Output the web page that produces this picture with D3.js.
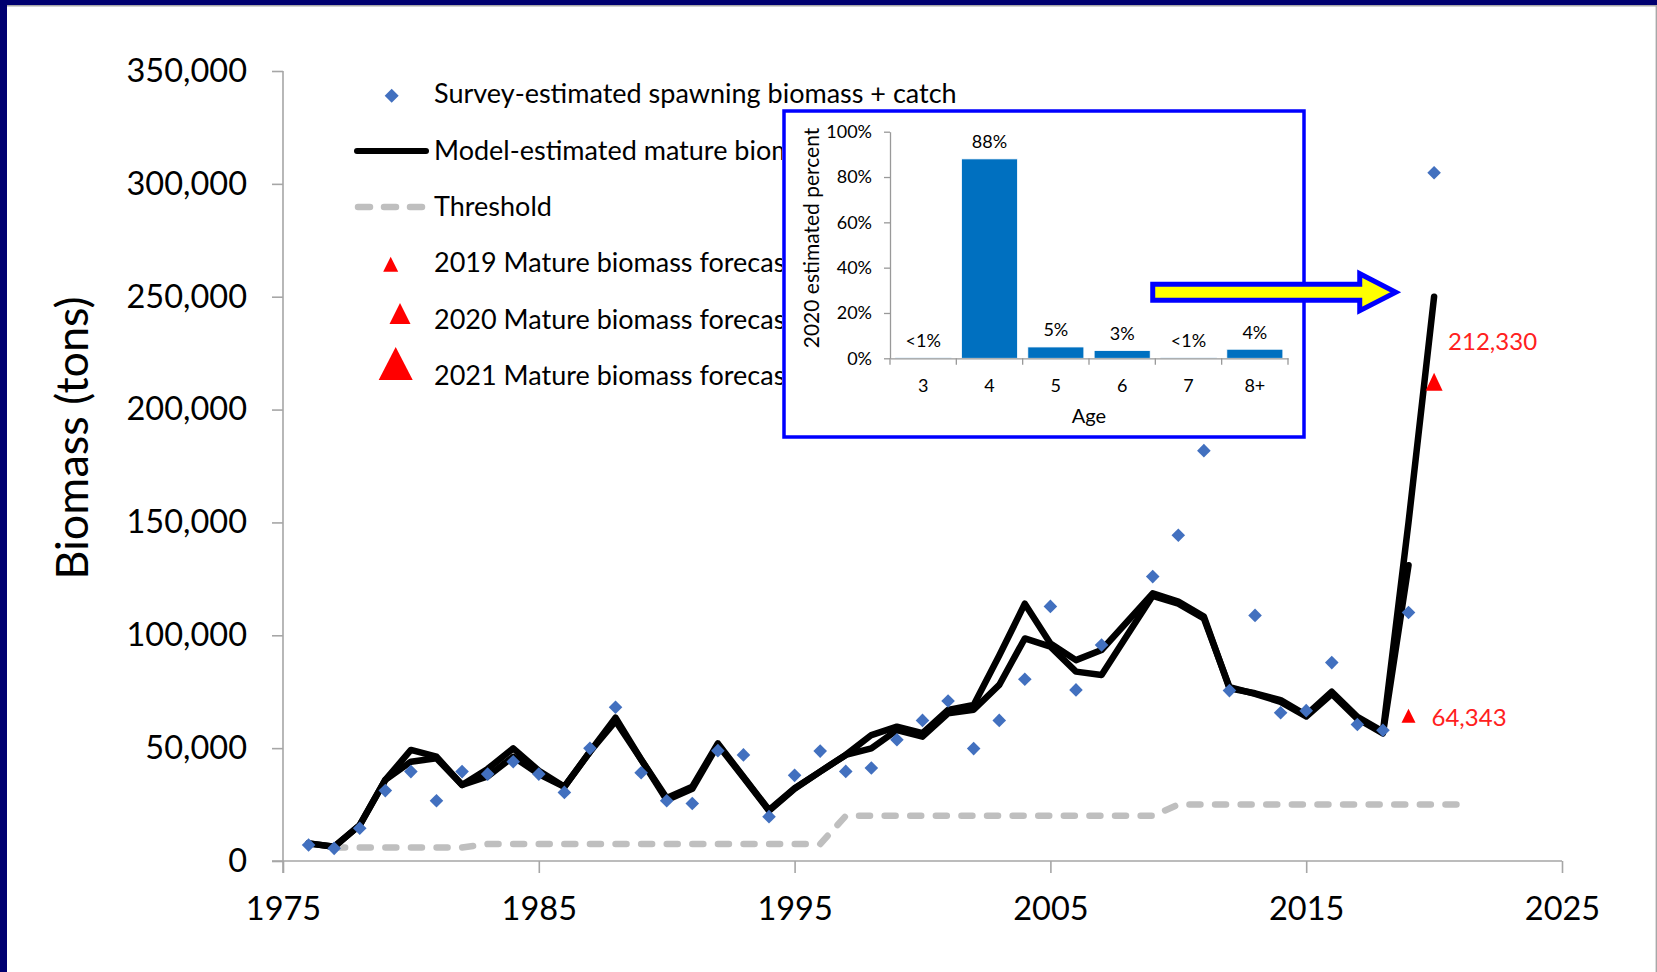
<!DOCTYPE html>
<html><head><meta charset="utf-8">
<script src="https://cdn.jsdelivr.net/npm/d3@7"></script>
<style>
html,body{margin:0;padding:0;background:#fff;}
svg{display:block;font-family:Lato,"Open Sans",sans-serif;}
</style></head><body>
<svg id="c" width="1657" height="972"></svg>
<script>
// ---------------- DATA ----------------
const years = [1976,1977,1978,1979,1980,1981,1982,1983,1984,1985,1986,1987,1988,1989,1990,
  1991,1992,1993,1994,1995,1996,1997,1998,1999,2000,2001,2002,2003,2004,2005,2006,2007,2008,
  2009,2010,2011,2012,2013,2014,2015,2016,2017,2018,2019,2020];
const surveyBiomass = [7100,5600,14500,31200,39600,26700,39600,38500,44000,38500,30400,49900,68100,39100,26700,
  25500,48900,47000,19650,37950,48700,39700,41200,53750,62300,70900,49800,62300,80500,112800,75800,95700,null,
  126000,144300,181800,75500,108800,65700,66600,87900,60500,57900,110100,304900];
const modelBiomassA = [7800,6300,15900,35900,49200,46200,33700,40800,49900,40000,32900,48400,63500,45000,27900,
  32900,52100,37300,22600,32200,39600,47000,55800,59500,56600,66900,69100,91000,114000,96400,89000,93500,106000,
  118600,114900,108300,76500,74300,71300,64700,75000,63900,57300,150000,250000];
const modelBiomassB = [7800,6300,15900,35900,44000,45500,33700,37500,46200,38500,32900,48400,62000,45000,27000,
  32000,51500,37000,22300,32000,39600,47000,49900,58000,55100,65400,67000,78000,98600,95000,83900,82400,100000,
  117500,114000,107500,77000,74000,70500,64000,74000,63000,56500,131000];
const thresholdYears = [1977,1982,1983,1996,1997,2009,2010,2021];
const thresholdValues = [6000,6000,7500,7500,20000,20000,25000,25000];
const forecastYears = [2019,2020];
const forecastValues = [64343,212330];
const forecastLabels = ["64,343","212,330"];
const xTickValues = [1975,1985,1995,2005,2015,2025];
const yTickValues = [0,50000,100000,150000,200000,250000,300000,350000];
const legendLabels = ["Survey-estimated spawning biomass + catch","Model-estimated mature biomass","Threshold",
  "2019 Mature biomass forecast","2020 Mature biomass forecast","2021 Mature biomass forecast"];
// inset
const ages = ["3","4","5","6","7","8+"];
const agePercent = [0.3,88,5,3.4,0.3,4];
const agePercentLabels = ["<1%","88%","5%","3%","<1%","4%"];
const insetYTicks = [0,20,40,60,80,100];

// ---------------- LAYOUT ----------------
const W = 1657, H = 972;
const svg = d3.select("#c");
const FONT = "Lato, 'Open Sans', sans-serif";

svg.append("rect").attr("width",W).attr("height",H).attr("fill","#fff");
svg.append("rect").attr("x",0).attr("y",0).attr("width",W).attr("height",5).attr("fill","#000070");
svg.append("rect").attr("x",0).attr("y",0).attr("width",7).attr("height",H).attr("fill","#000070");
svg.append("line").attr("x1",7).attr("x2",W).attr("y1",5.7).attr("y2",5.7).attr("stroke","#a8a8a8").attr("stroke-width",1.4);
svg.append("line").attr("x1",W-0.7).attr("x2",W-0.7).attr("y1",5).attr("y2",H).attr("stroke","#a8a8a8").attr("stroke-width",1.4);

const x = d3.scaleLinear().domain([1975,2025]).range([283,1562]);
const y = d3.scaleLinear().domain([0,350000]).range([861,71]);

const axisColor = "#a6a6a6";
const gx = svg.append("g").attr("transform","translate(0,861)")
  .call(d3.axisBottom(x).tickValues(xTickValues).tickFormat(d3.format("d")).tickSize(12).tickSizeOuter(0).tickPadding(24));
const gy = svg.append("g").attr("transform","translate(283,0)")
  .call(d3.axisLeft(y).tickValues(yTickValues).tickFormat(d3.format(",")).tickSize(11).tickSizeOuter(0).tickPadding(25));
[gx,gy].forEach(g=>{
  g.selectAll("path,line").attr("stroke",axisColor).attr("stroke-width",1.6);
  g.selectAll("text").attr("font-size",32.5).attr("font-family",FONT).attr("fill","#000");
});
gy.select(".domain").attr("d","M0,873V71");
gx.select(".domain").attr("d","M272,0H1562");

svg.append("text").attr("transform","translate(88,438) rotate(-90)")
  .attr("text-anchor","middle").attr("font-size",45).attr("font-family",FONT).attr("fill","#000")
  .text("Biomass (tons)");

// threshold
const thr = thresholdYears.map((yr,i)=>[yr,thresholdValues[i]]);
svg.append("path").datum(thr)
  .attr("d",d3.line().x(d=>x(d[0])).y(d=>y(d[1])))
  .attr("fill","none").attr("stroke","#bfbfbf").attr("stroke-width",6.5)
  .attr("stroke-linecap","round").attr("stroke-linejoin","round").attr("stroke-dasharray","11,14.6");

// model lines
const line = d3.line().x(d=>x(d[0])).y(d=>y(d[1]));
[modelBiomassA, modelBiomassB].forEach(series=>{
  const pts = series.map((v,i)=>[years[i],v]);
  svg.append("path").datum(pts).attr("d",line)
    .attr("fill","none").attr("stroke","#000").attr("stroke-width",6.5).attr("stroke-linejoin","round").attr("stroke-linecap","round");
});

// survey points
const diamond = s => `M0,${-s}L${s},0L0,${s}L${-s},0Z`;
svg.append("g").selectAll("path")
  .data(years.map((yr,i)=>[yr,surveyBiomass[i]]).filter(d=>d[1]!=null))
  .join("path").attr("transform",d=>`translate(${x(d[0])},${y(d[1])})`)
  .attr("d",diamond(6.8)).attr("fill","#4270bf");

// forecast triangles
const tri = (w,h) => `M0,${-h/2}L${w/2},${h/2}L${-w/2},${h/2}Z`;
const triSizes = [[14,14],[17,18]];
const labelOffsets = [[23,10],[14,-32]];
forecastYears.forEach((yr,i)=>{
  svg.append("path").attr("transform",`translate(${x(yr)},${y(forecastValues[i])})`)
    .attr("d",tri(triSizes[i][0],triSizes[i][1])).attr("fill","#ff0000");
  svg.append("text").attr("x",x(yr)+labelOffsets[i][0]).attr("y",y(forecastValues[i])+labelOffsets[i][1])
    .attr("font-size",24).attr("font-family",FONT).attr("fill","#ff2020").text(forecastLabels[i]);
});

// legend (lower rows are hidden behind the inset box on the right)
const clip = svg.append("clipPath").attr("id","legclip");
clip.append("rect").attr("x",0).attr("y",0).attr("width",W).attr("height",110);
clip.append("rect").attr("x",0).attr("y",0).attr("width",782).attr("height",H);
const leg = svg.append("g").attr("clip-path","url(#legclip)");
const legBaselines = [103.3,160,215.7,272.3,329,385];
legendLabels.forEach((t,i)=>{
  leg.append("text").attr("x",434).attr("y",legBaselines[i]).attr("font-size",27)
    .attr("font-family",FONT).attr("fill","#000").text(t);
});
leg.append("path").attr("transform","translate(391.7,95.7)").attr("d",diamond(7)).attr("fill","#4270bf");
leg.append("line").attr("x1",357).attr("x2",426).attr("y1",151).attr("y2",151).attr("stroke","#000").attr("stroke-width",6).attr("stroke-linecap","round");
leg.append("line").attr("x1",358).attr("x2",424).attr("y1",207).attr("y2",207).attr("stroke","#bfbfbf").attr("stroke-width",6.5)
  .attr("stroke-linecap","round").attr("stroke-dasharray","12,14");
const legTri = [[390.7,264.2,15,15],[400,313.5,21,21],[395.7,363.5,34,33]];
legTri.forEach(d=>{
  leg.append("path").attr("transform",`translate(${d[0]},${d[1]})`).attr("d",tri(d[2],d[3])).attr("fill","#ff0000");
});

// ---------------- INSET ----------------
const inset = svg.append("g");
inset.append("rect").attr("x",784).attr("y",111).attr("width",520).attr("height",326)
  .attr("fill","#fff").attr("stroke","#0000ff").attr("stroke-width",3.5);

const xb = d3.scaleBand().domain(ages).range([890,1288]).padding(0);
const yb = d3.scaleLinear().domain([0,100]).range([358.3,131.7]);
const bw = xb.bandwidth()*0.845;

inset.append("g").selectAll("rect").data(ages).join("rect")
  .attr("x",a=>xb(a)+(xb.bandwidth()-bw)/2).attr("width",bw)
  .attr("y",(a,i)=>yb(agePercent[i])).attr("height",(a,i)=>yb(0)-yb(agePercent[i]))
  .attr("fill","#0070c0").attr("stroke","#ffffff").attr("stroke-width",0.8);

const giy = inset.append("g").attr("transform","translate(890,0)")
  .call(d3.axisLeft(yb).tickValues(insetYTicks).tickFormat(d=>d+"%").tickSize(6).tickSizeOuter(0).tickPadding(12));
const gix = inset.append("g").attr("transform","translate(0,358.3)")
  .call(d3.axisBottom(xb).tickSize(0).tickSizeOuter(0).tickPadding(20.6));
const bounds = ages.map(a=>xb(a)).concat([xb.range()[1]]);
gix.selectAll(".bt").data(bounds).join("line").attr("class","bt")
  .attr("x1",d=>d).attr("x2",d=>d).attr("y1",0).attr("y2",6.5);
[giy,gix].forEach(g=>{
  g.selectAll("path,line").attr("stroke","#999").attr("stroke-width",1.3);
  g.selectAll("text").attr("font-size",18).attr("font-family",FONT).attr("fill","#000");
});

inset.append("g").selectAll("text").data(ages).join("text")
  .attr("x",a=>xb(a)+xb.bandwidth()/2).attr("y",(a,i)=>yb(agePercent[i])-10.5)
  .attr("text-anchor","middle").attr("font-size",18).attr("font-family",FONT).attr("fill","#000")
  .text((a,i)=>agePercentLabels[i]);

inset.append("text").attr("x",(xb.range()[0]+xb.range()[1])/2).attr("y",422.7).attr("text-anchor","middle")
  .attr("font-size",20).attr("font-family",FONT).attr("fill","#000").text("Age");
inset.append("text").attr("transform","translate(819,238) rotate(-90)").attr("text-anchor","middle")
  .attr("font-size",21).attr("font-family",FONT).attr("fill","#000").text("2020 estimated percent");

// arrow annotation pointing at the 2020 model estimate
const tipX = x(2018.5), tipY = y(252000);
const arrowPts = [[-243,-8],[-36,-8],[-36,-18.5],[0,0],[-36,18.5],[-36,8],[-243,8]];
svg.append("path").attr("transform",`translate(${tipX},${tipY})`)
  .attr("d","M"+arrowPts.map(p=>p.join(",")).join("L")+"Z")
  .attr("fill","#ffff00").attr("stroke","#0000ff").attr("stroke-width",5).attr("stroke-linejoin","miter");
</script>
</body></html>
